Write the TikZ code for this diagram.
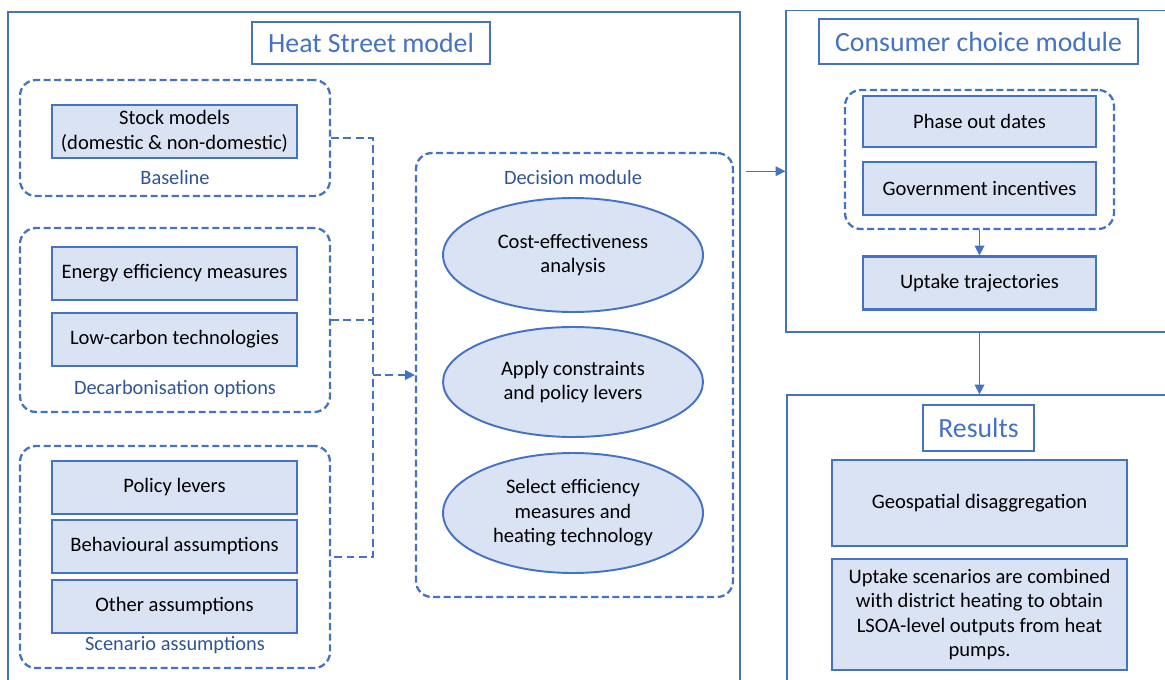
\documentclass[tikz,border=0pt]{standalone}
\usepackage{fontspec}
\setmainfont{Carlito}
\usetikzlibrary{positioning,arrows.meta,calc,shapes.geometric}
\definecolor{hsblue}{HTML}{4472C4}
\definecolor{hsfill}{HTML}{DAE3F3}
\definecolor{hslabel}{HTML}{2F5597}

\begin{document}
\begin{tikzpicture}[x=0.02cm,y=-0.02cm,
  frame/.style={draw=hsblue,line width=0.8pt,inner sep=0pt},
  ttl/.style={frame,fill=white,text=hsblue,font=\fontsize{15.8}{18}\selectfont},
  item/.style={draw=hsblue,line width=1.3pt,fill=hsfill,inner sep=2pt,align=center,font=\fontsize{11.7}{14}\selectfont},
  oval/.style={ellipse,draw=hsblue,line width=1.1pt,fill=hsfill,inner sep=0pt,align=center,minimum width=5.2cm,font=\fontsize{11.7}{14}\selectfont},
  grp/.style={draw=hsblue,line width=1.3pt,dash pattern=on 4pt off 2pt,rounded corners=9pt,inner sep=0pt},
  grplabel/.style={text=hslabel,font=\fontsize{11.6}{13}\selectfont},
  link/.style={draw=hsblue,line width=0.8pt,dash pattern=on 4.5pt off 2.5pt},
  arr/.style={draw=hsblue,line width=0.8pt,-{Triangle[length=5.5pt,width=5.5pt]}}]
\useasboundingbox (0,0) rectangle (1165,679);
\clip (0,0) rectangle (1165,679);
% outer frames
\node[frame,minimum width=14.64cm,minimum height=13.76cm] (hsm) at (374,356) {};
\node[frame,minimum width=7.78cm,minimum height=6.43cm] (ccm) at (980.5,171.25) {};
\node[frame,minimum width=7.76cm,minimum height=6.1cm] (res) at (981,547.5) {};
\node[ttl,minimum width=4.76cm,minimum height=0.84cm] (hsmttl) at (371,43) {Heat Street model};
\node[ttl,minimum width=6.38cm,minimum height=0.9cm] (ccmttl) at (978.5,41.5) {Consumer choice module};
\node[ttl,minimum width=2.22cm,minimum height=0.92cm] (resttl) at (978.5,428) {Results};
% input groups on the left
\node[grp,minimum width=6.2cm,minimum height=2.32cm] (base) at (175,138) {};
\node[item,minimum width=4.9cm,minimum height=1.06cm] (stock) at (174.5,131.5) {Stock models\\(domestic \& non-domestic)};
\node[grplabel] at (175,177) {Baseline};
\node[grp,minimum width=6.2cm,minimum height=3.68cm] (decarb) at (175,320) {};
\node[item,minimum width=4.9cm,minimum height=1.06cm] (eem) at (174.5,273.5) {Energy efficiency measures};
\node[item,minimum width=4.9cm,minimum height=1.06cm] (lct) at (174.5,339.5) {Low-carbon technologies};
\node[grplabel] at (175,389) {Decarbonisation options};
\node[grp,minimum width=6.2cm,minimum height=4.44cm] (scen) at (175,557) {};
\node[item,minimum width=4.9cm,minimum height=1.06cm] (pol) at (174.5,487.5) {Policy levers};
\node[item,minimum width=4.9cm,minimum height=1.06cm] (beh) at (174.5,546.5) {Behavioural assumptions};
\node[item,minimum width=4.9cm,minimum height=1.06cm] (oth) at (174.5,606.5) {Other assumptions};
\node[grplabel] at (175,645) {Scenario assumptions};
% decision module
\node[grp,minimum width=6.34cm,minimum height=8.88cm] (dec) at (574.5,375) {};
\node[grplabel] at (573,177) {Decision module};
\node[oval,minimum height=2.28cm] (cea) at (573,255) {Cost-effectiveness\\analysis};
\node[oval,minimum height=2.2cm] (acp) at (573,382) {Apply constraints\\and policy levers};
\node[oval,minimum height=2.4cm] (sel) at (573,513) {Select efficiency\\measures and\\heating technology};
% consumer choice
\node[grp,minimum width=5.38cm,minimum height=2.78cm] (phgrp) at (979.5,159.5) {};
\node[item,minimum width=4.66cm,minimum height=1.02cm] (pod) at (979.5,121.5) {Phase out dates};
\node[item,minimum width=4.66cm,minimum height=1.06cm] (gov) at (979.5,188.5) {Government incentives};
\node[item,minimum width=4.66cm,minimum height=1.06cm] (upt) at (979.5,283) {Uptake trajectories};
% results
\node[item,minimum width=5.9cm,minimum height=1.72cm] (geo) at (979.5,503) {Geospatial disaggregation};
\node[item,minimum width=5.9cm,minimum height=2.22cm] (usc) at (979.5,614.5) {Uptake scenarios are combined\\with district heating to obtain\\LSOA-level outputs from heat\\pumps.};
% dashed links into the decision module
\draw[link] (base.east) -- ++(42,0) coordinate (bus) -- (bus |- scen.east) -- (scen.east);
\draw[link] (decarb.east) -- (bus |- decarb.east);
\draw[arr,dash pattern=on 4.5pt off 2.5pt] (bus |- dec.west) -- (dec.west);
% solid arrows
\draw[arr] ([xshift=3pt]hsm.east |- ccm.west) -- (ccm.west);
\draw[arr] (phgrp.south) -- (upt.north);
\draw[arr] (ccm.south -| upt) -- (res.north -| upt);
\end{tikzpicture}
\end{document}
